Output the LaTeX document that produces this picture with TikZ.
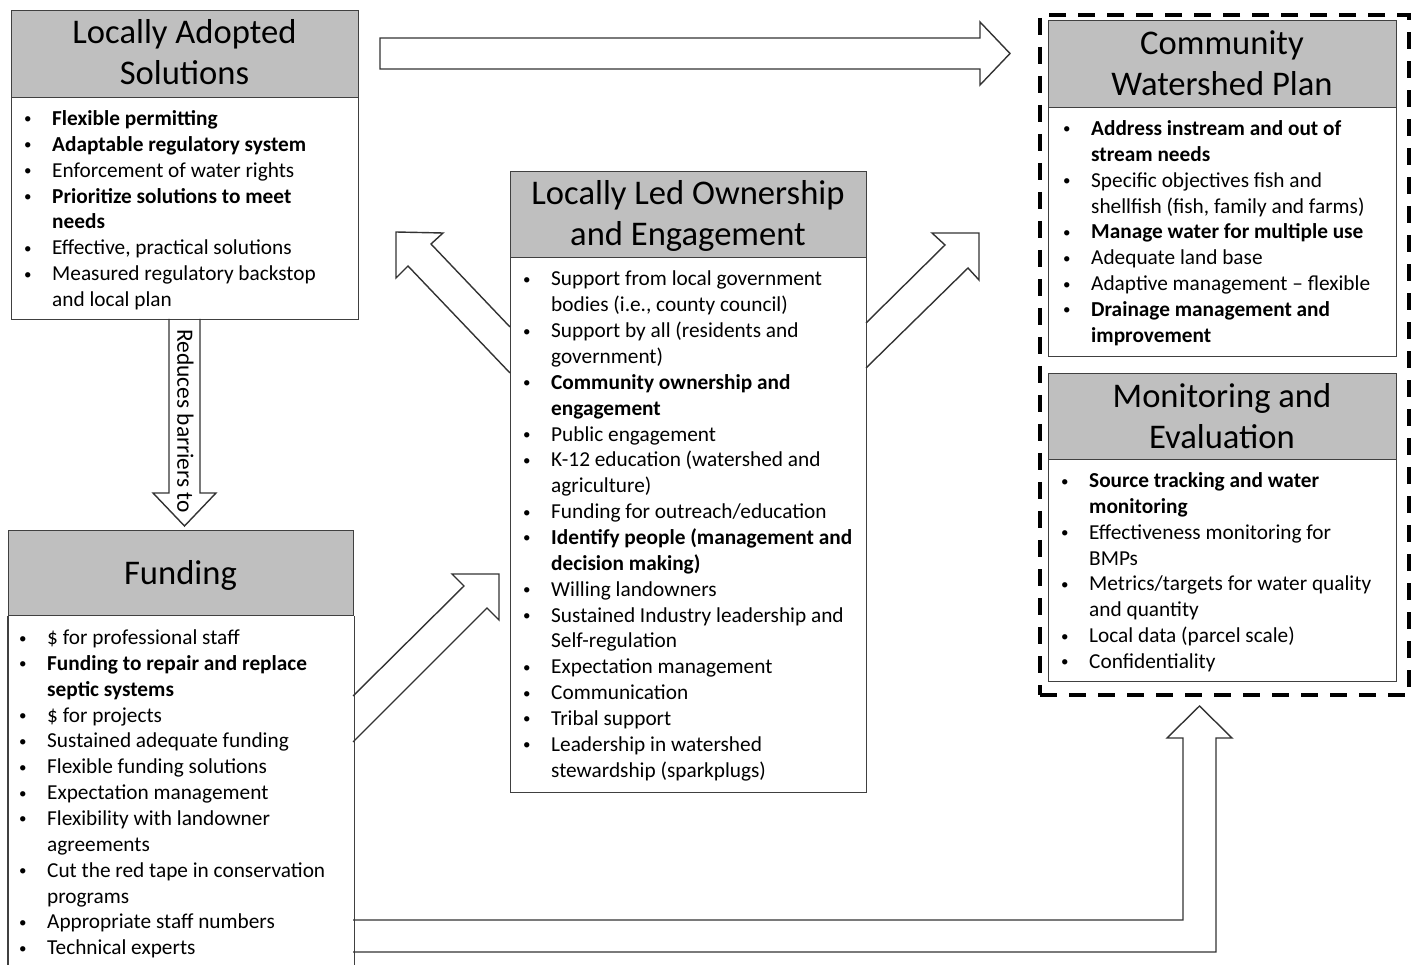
\documentclass[tikz,border=0pt]{standalone}
\usepackage{fontspec}
\setmainfont{Carlito}
\definecolor{hdrgray}{HTML}{BFBFBF}
\definecolor{boxline}{HTML}{404040}
\definecolor{arrline}{HTML}{333333}
\newcommand{\bu}{\leavevmode\llap{\raisebox{1.5pt}{\fontsize{15}{15}\selectfont\textbullet}\hspace{20.5pt}}}
\newcommand{\lines}[1]{\parbox[t]{420pt}{\raggedright #1}}
\begin{document}
\begin{tikzpicture}[x=1pt,y=-1pt,
  hdr/.style={draw=boxline, line width=1.3pt, fill=hdrgray, anchor=north west, inner sep=0pt},
  bodybox/.style={draw=boxline, line width=1.3pt, anchor=north west, inner sep=0pt},
  ttl/.style={anchor=base, inner sep=0pt, font=\fontsize{34.6}{41.5}\selectfont, align=center},
  txt/.style={anchor=base west, inner sep=0pt, font=\fontsize{21.3}{25.85}\selectfont},
  blk/.style={draw=arrline, line width=1.4pt, line join=miter},
  grp/.style={draw=black, line width=4pt, dash pattern=on 17pt off 12pt, anchor=north west, inner sep=0pt}
]
\useasboundingbox (0,0) rectangle (1417,965);

% dashed group around plan and monitoring
\node[grp, minimum width=369pt, minimum height=680pt] (group) at (1038,13) {};

% Locally Adopted Solutions
\node[hdr, minimum width=347pt, minimum height=87pt] (lasH) at (11,10) {};
\node[bodybox, minimum width=347pt, minimum height=222pt] (lasB) at (11,97) {};
\node[ttl] (lasT) at (184.5,43.5) {\lines{\centering Locally Adopted\\Solutions}};
\node[txt] (lasL) at (52,125.5) {\lines{%
\bu\textbf{Flexible permitting}\\
\bu\textbf{Adaptable regulatory system}\\
\bu Enforcement of water rights\\
\bu\textbf{Prioritize solutions to meet}\\
\textbf{needs}\\
\bu Effective, practical solutions\\
\bu Measured regulatory backstop\\
and local plan}};

% Funding
\node[hdr, minimum width=345pt, minimum height=85pt] (funH) at (8,530) {};
\draw[draw=boxline, line width=1.3pt] (funH.south west) -- ++(0,352);
\draw[draw=boxline, line width=1.3pt] (funH.south east) -- ++(0,352);
\node[ttl] (funT) at (180.5,584) {Funding};
\node[txt] (funL) at (47,644.5) {\lines{%
\bu\$ for professional staff\\
\bu\textbf{Funding to repair and replace}\\
\textbf{septic systems}\\
\bu\$ for projects\\
\bu Sustained adequate funding\\
\bu Flexible funding solutions\\
\bu Expectation management\\
\bu Flexibility with landowner\\
agreements\\
\bu Cut the red tape in conservation\\
programs\\
\bu Appropriate staff numbers\\
\bu Technical experts}};

% Locally Led Ownership and Engagement
\node[hdr, minimum width=356pt, minimum height=86pt] (ctrH) at (510,171) {};
\node[bodybox, minimum width=356pt, minimum height=535pt] (ctrB) at (510,257) {};
\node[ttl] (ctrT) at (688,204.5) {\lines{\centering Locally Led Ownership\\and Engagement}};
\node[txt] (ctrL) at (551,286) {\lines{%
\bu Support from local government\\
bodies (i.e., county council)\\
\bu Support by all (residents and\\
government)\\
\bu\textbf{Community ownership and}\\
\textbf{engagement}\\
\bu Public engagement\\
\bu K-12 education (watershed and\\
agriculture)\\
\bu Funding for outreach/education\\
\bu\textbf{Identify people (management and}\\
\textbf{decision making)}\\
\bu Willing landowners\\
\bu Sustained Industry leadership and\\
Self-regulation\\
\bu Expectation management\\
\bu Communication\\
\bu Tribal support\\
\bu Leadership in watershed\\
stewardship (sparkplugs)}};

% Community Watershed Plan
\node[hdr, minimum width=348pt, minimum height=87pt] (cwpH) at (1048,20) {};
\node[bodybox, minimum width=348pt, minimum height=249pt] (cwpB) at (1048,107) {};
\node[ttl] (cwpT) at (1222,54.5) {\lines{\centering Community\\Watershed Plan}};
\node[txt] (cwpL) at (1091,135.5) {\lines{%
\bu\textbf{Address instream and out of}\\
\textbf{stream needs}\\
\bu Specific objectives fish and\\
shellfish (fish, family and farms)\\
\bu\textbf{Manage water for multiple use}\\
\bu Adequate land base\\
\bu Adaptive management -- flexible\\
\bu\textbf{Drainage management and}\\
\textbf{improvement}}};

% Monitoring and Evaluation
\node[hdr, minimum width=348pt, minimum height=86pt] (meH) at (1048,373) {};
\node[bodybox, minimum width=348pt, minimum height=222pt] (meB) at (1048,459) {};
\node[ttl] (meT) at (1222,407.5) {\lines{\centering Monitoring and\\Evaluation}};
\node[txt] (meL) at (1089,487.5) {\lines{%
\bu\textbf{Source tracking and water}\\
\textbf{monitoring}\\
\bu Effectiveness monitoring for\\
BMPs\\
\bu Metrics/targets for water quality\\
and quantity\\
\bu Local data (parcel scale)\\
\bu Confidentiality}};

% block arrows
% Locally Adopted Solutions -> Community Watershed Plan
\draw[blk] (380,38) -- (980,38) -- (980,22) -- (1010,53.5) -- (980,85) -- (980,69) -- (380,69) -- cycle;
% Locally Adopted Solutions -> Funding
\draw[blk] (169,319) -- (169,493) -- (153,493) -- (184.5,526) -- (216,493) -- (200,493) -- (200,319);
\node[rotate=-90, inner sep=0pt, font=\fontsize{23.4}{28}\selectfont] (redT) at (185.5,421) {Reduces barriers to};
% Engagement -> Locally Adopted Solutions
\draw[blk] (510,327) -- (431,244) -- (443,233) -- (396,232) -- (396,278) -- (408,266) -- (510,373);
% Engagement -> Community Watershed Plan
\draw[blk] (866,323) -- (945,245) -- (932,233) -- (979,233) -- (979,280) -- (968,268) -- (866,368);
% Funding -> Engagement
\draw[blk] (353,696) -- (464,586) -- (452,574) -- (499,574) -- (499,620) -- (487,608) -- (353,742);
% Funding -> Monitoring and Evaluation
\draw[blk] (353,920) -- (1183,920) -- (1183,738) -- (1167,738) -- (1199.5,706) -- (1232,738) -- (1216,738) -- (1216,952) -- (353,952);
\end{tikzpicture}
\end{document}
